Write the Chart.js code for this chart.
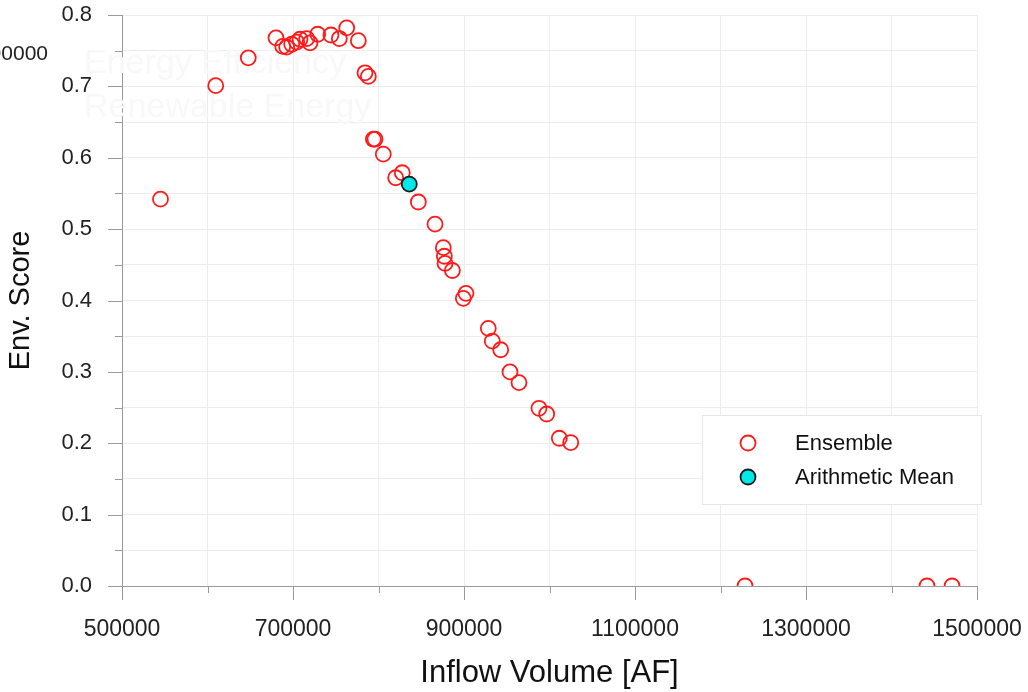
<!DOCTYPE html>
<html>
<head>
<meta charset="utf-8">
<script src="https://cdn.jsdelivr.net/npm/chart.js@4"></script>
<style>
  html, body { margin: 0; padding: 0; background: #fff; }
  #wrap { position: relative; width: 1028px; height: 692px; }
</style>
</head>
<body>
<div id="wrap"><canvas id="scoreChart" width="1028" height="692"></canvas></div>
<script>
// values
const ensembleX = [545000, 609600, 647700, 680100, 688000, 692600, 698500, 704300, 708200, 716000,
  719900, 728900, 744400, 754200, 762800, 776400, 784200, 788100, 794000, 795900,
  805600, 820100, 827800, 846600, 866100, 875800, 877000, 877800, 886400, 899200,
  902300, 928400, 933100, 942900, 953800, 964300, 987700, 996700, 1011500, 1024800,
  1228700, 1441500, 1470800];
const ensembleY = [0.542, 0.701, 0.740, 0.768, 0.756, 0.755, 0.759, 0.762, 0.766, 0.767,
  0.761, 0.773, 0.772, 0.767, 0.782, 0.764, 0.719, 0.714, 0.626, 0.626,
  0.605, 0.572, 0.579, 0.538, 0.507, 0.474, 0.462, 0.452, 0.442, 0.403,
  0.410, 0.361, 0.343, 0.331, 0.300, 0.285, 0.249, 0.241, 0.207, 0.201,
  0, 0, 0];
const meanX = [836000];
const meanY = [0.563];

const seriesNames = ['Ensemble', 'Arithmetic Mean'];
const xTitle = 'Inflow Volume [AF]';
const yTitle = 'Env. Score';

const FONT = '"Liberation Sans", Arial, sans-serif';

function toPoints(xs, ys) {
  return xs.map((x, i) => ({ x: x, y: ys[i] }));
}

// short major / minor tick marks outside the axes
const tickMarks = {
  id: 'tickMarks',
  afterDraw(chart) {
    const { ctx, scales: { x, y } } = chart;
    ctx.save();
    ctx.strokeStyle = '#9a9a9a';
    ctx.lineWidth = 1;
    ctx.beginPath();
    y.ticks.forEach(t => {
      const py = Math.round(y.getPixelForValue(t.value)) + 0.5;
      const len = t.label ? 14 : 7;
      ctx.moveTo(y.right - len, py);
      ctx.lineTo(y.right, py);
    });
    x.ticks.forEach(t => {
      const px = Math.round(x.getPixelForValue(t.value)) + 0.5;
      const len = t.label ? 14 : 7;
      ctx.moveTo(px, x.top);
      ctx.lineTo(px, x.top + len);
    });
    ctx.stroke();
    ctx.restore();
  }
};

// faint leftover text behind the plot and the clipped label at top left
const backdrop = {
  id: 'backdrop',
  beforeDatasetsDraw(chart) {
    const ctx = chart.ctx;
    ctx.save();
    ctx.fillStyle = '#f8f8f8';
    ctx.font = '34px ' + FONT;
    ctx.textBaseline = 'middle';
    ctx.fillText('Energy Efficiency', 84, 64);
    ctx.fillText('Renewable Energy', 84, 108);
    ctx.restore();
  },
  afterDraw(chart) {
    const ctx = chart.ctx;
    ctx.save();
    ctx.fillStyle = '#222';
    ctx.font = '21px ' + FONT;
    ctx.textAlign = 'right';
    ctx.textBaseline = 'middle';
    ctx.fillText('00000', 48, 54);
    ctx.restore();
  }
};

// legend box drawn inside the plot, lower right
const legendBox = {
  id: 'legendBox',
  afterDatasetsDraw(chart) {
    const ctx = chart.ctx;
    const left = 702, top = 415, w = 279, h = 89;
    ctx.save();
    ctx.fillStyle = '#ffffff';
    ctx.fillRect(left, top, w, h);
    ctx.strokeStyle = '#e6e6e6';
    ctx.lineWidth = 1;
    ctx.strokeRect(left + 0.5, top + 0.5, w, h);
    const entries = [chart.data.datasets[1], chart.data.datasets[0]];
    entries.forEach((ds, i) => {
      const cy = 443 + i * 34;
      ctx.beginPath();
      ctx.arc(748, cy, 7.5, 0, Math.PI * 2);
      ctx.fillStyle = ds.pointBackgroundColor;
      ctx.fill();
      ctx.lineWidth = ds.pointBorderWidth;
      ctx.strokeStyle = ds.pointBorderColor;
      ctx.stroke();
      ctx.fillStyle = '#111';
      ctx.font = '22px ' + FONT;
      ctx.textBaseline = 'middle';
      ctx.fillText(ds.label, 795, cy + 1);
    });
    ctx.restore();
  }
};

const ctx = document.getElementById('scoreChart').getContext('2d');
const chart = new Chart(ctx, {
  type: 'scatter',
  data: {
    datasets: [{
      label: seriesNames[1],
      data: toPoints(meanX, meanY),
      pointRadius: 7.5,
      pointBackgroundColor: '#00e8e8',
      pointBorderColor: '#1a1a1a',
      pointBorderWidth: 1.8,
      order: 0
    }, {
      label: seriesNames[0],
      data: toPoints(ensembleX, ensembleY),
      pointRadius: 7.5,
      pointBackgroundColor: 'rgba(255,255,255,0)',
      pointBorderColor: '#ff1a1a',
      pointBorderWidth: 1.8,
      order: 1
    }]
  },
  options: {
    responsive: false,
    animation: false,
    devicePixelRatio: 1,
    events: [],
    layout: { padding: { top: 15, right: 51, left: 0, bottom: 0 } },
    plugins: {
      legend: { display: false },
      tooltip: { enabled: false }
    },
    scales: {
      x: {
        type: 'linear',
        min: 500000,
        max: 1500000,
        afterFit(scale) {
          scale.height = 106;
          scale.paddingLeft = 0;
          scale.paddingRight = 0;
        },
        border: { color: '#9a9a9a', width: 1 },
        grid: { color: '#ececec', drawTicks: false },
        ticks: {
          stepSize: 100000,
          autoSkip: false,
          maxRotation: 0,
          padding: 30,
          color: '#222',
          font: { family: FONT, size: 23 },
          callback: v => ((v - 500000) % 200000 === 0 ? String(v) : '')
        },
        title: {
          display: true,
          text: xTitle,
          color: '#111',
          font: { family: FONT, size: 31 },
          padding: { top: 0, bottom: 0 }
        }
      },
      y: {
        type: 'linear',
        min: 0,
        max: 0.8,
        afterFit(scale) {
          scale.width = 122;
          scale.paddingTop = 0;
          scale.paddingBottom = 0;
        },
        border: { color: '#9a9a9a', width: 1 },
        grid: { color: '#ececec', drawTicks: false },
        ticks: {
          stepSize: 0.05,
          autoSkip: false,
          padding: 30,
          color: '#222',
          font: { family: FONT, size: 22 },
          callback: v => (Math.round(v * 20) % 2 === 0 ? v.toFixed(1) : '')
        },
        title: {
          display: true,
          text: yTitle,
          color: '#111',
          font: { family: FONT, size: 29 },
          padding: { top: 4, bottom: 0 }
        }
      }
    }
  },
  plugins: [backdrop, tickMarks, legendBox]
});
</script>
</body>
</html>
